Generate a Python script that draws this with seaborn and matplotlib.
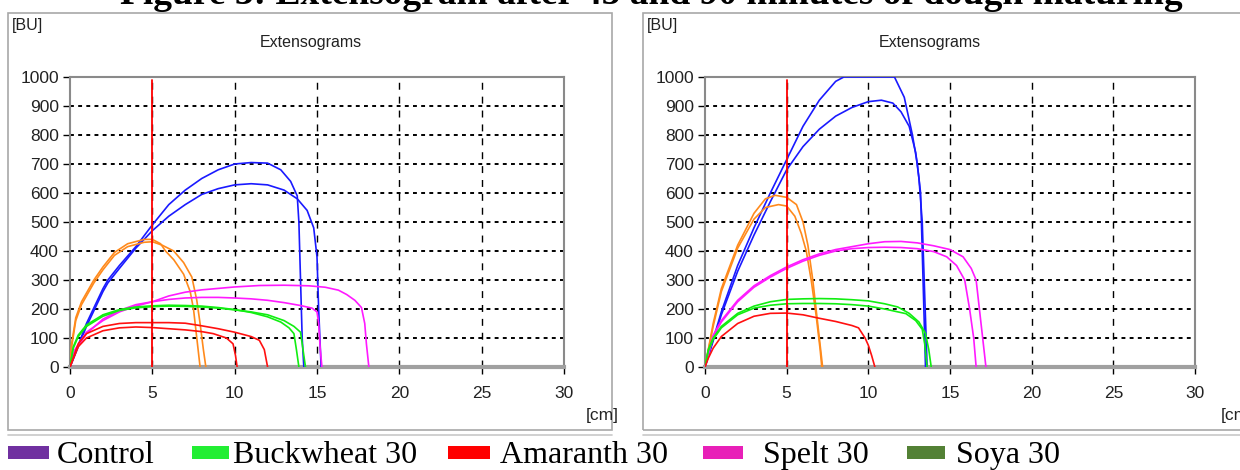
import numpy as np
import pandas as pd
import matplotlib
matplotlib.use("Agg")
import matplotlib.pyplot as plt
from matplotlib.patches import Rectangle
import seaborn as sns

# ---------------- data ----------------
title_text = "Figure 3: Extensogram after 45 and 90 minutes of dough maturing"
panel_title = "Extensograms"
x_ticks = [0, 5, 10, 15, 20, 25, 30]
y_ticks = [0, 100, 200, 300, 400, 500, 600, 700, 800, 900, 1000]

legend_labels = ["Control", "Buckwheat 30", "Amaranth 30", "Spelt 30", "Soya 30"]
legend_colors = ["#7030A0", "#22EE33", "#FF0000", "#E820B8", "#538135"]

# left panel (first maturing time)
L_blue_a_x = [0, 1, 2, 2.3, 3, 4, 5, 6, 7, 8, 9, 10, 11, 12, 12.8, 13.4, 13.8, 13.9, 14.0, 14.1, 14.2]
L_blue_a_y = [0, 150, 270, 300, 350, 415, 490, 560, 610, 650, 680, 700, 705, 703, 680, 640, 590, 500, 300, 100, 0]
L_blue_b_x = [0, 1, 2, 2.3, 3, 4, 5, 6, 7, 8, 9, 10, 11, 12, 13, 13.8, 14.4, 14.8, 15.0, 15.1, 15.25]
L_blue_b_y = [0, 140, 260, 290, 340, 410, 470, 520, 560, 595, 615, 628, 632, 628, 610, 580, 540, 480, 380, 200, 0]
L_orng_a_x = [0, 0.1, 0.35, 0.7, 1.45, 2, 2.7, 3.5, 4.5, 5, 5.5, 5.8, 6.3, 6.9, 7.3, 7.5, 7.7, 7.9]
L_orng_a_y = [0, 80, 170, 225, 300, 345, 395, 425, 440, 440, 425, 400, 370, 320, 260, 200, 100, 0]
L_orng_b_x = [0, 0.1, 0.35, 0.7, 1.45, 2, 2.7, 3.5, 4.5, 5, 5.6, 6.3, 6.9, 7.4, 7.7, 7.9, 8.1, 8.25]
L_orng_b_y = [0, 70, 160, 215, 290, 335, 385, 415, 430, 432, 420, 400, 360, 310, 230, 150, 60, 0]
L_mag_a_x = [0, 0.3, 1, 2, 3, 4, 5, 6, 7, 8, 10, 11.5, 13, 14.5, 15.5, 16.3, 16.8, 17.3, 17.7, 17.9, 18.0, 18.15]
L_mag_a_y = [0, 60, 120, 160, 190, 210, 225, 245, 258, 266, 276, 281, 282, 280, 275, 265, 250, 230, 205, 150, 80, 0]
L_mag_b_x = [0, 0.3, 1, 2, 3, 4, 5, 6, 7, 8, 9, 10, 11, 12, 13, 14, 14.7, 15.0, 15.1, 15.2, 15.3]
L_mag_b_y = [0, 55, 115, 165, 195, 215, 225, 233, 238, 240, 240, 238, 235, 230, 222, 212, 203, 190, 150, 60, 0]
L_grn_a_x = [0, 0.2, 0.5, 1, 2, 3, 4, 5, 6, 7, 8, 9, 10, 11, 12, 12.8, 13.3, 13.6, 13.75, 13.9]
L_grn_a_y = [0, 70, 110, 145, 180, 198, 207, 211, 213, 212, 210, 205, 198, 188, 173, 155, 135, 115, 60, 0]
L_grn_b_x = [0, 0.2, 0.5, 1, 2, 3, 4, 5, 6, 7, 8, 9, 10, 11, 12, 13, 13.6, 14.0, 14.15, 14.3]
L_grn_b_y = [0, 65, 105, 140, 175, 195, 204, 208, 210, 209, 207, 203, 197, 190, 180, 160, 140, 120, 60, 0]
L_red_a_x = [0, 0.5, 1, 2, 3, 4, 5, 6, 7, 8, 9, 10, 11, 11.5, 11.8, 12.0]
L_red_a_y = [0, 80, 115, 140, 150, 153, 153, 153, 151, 142, 132, 120, 105, 92, 60, 0]
L_red_b_x = [0, 0.5, 1, 2, 3, 4, 5, 6, 7, 8, 8.7, 9.5, 9.9, 10.05, 10.15]
L_red_b_y = [0, 70, 100, 125, 135, 138, 136, 132, 128, 122, 115, 100, 80, 40, 0]

# right panel (second maturing time)
R_blue_a_x = [0, 1, 2, 3, 4, 5, 6, 7, 8, 8.5, 11.6, 12.2, 12.7, 13.0, 13.2, 13.3, 13.4, 13.5]
R_blue_a_y = [0, 190, 350, 480, 600, 715, 830, 920, 985, 1000, 1000, 930, 800, 700, 600, 400, 200, 0]
R_blue_b_x = [0, 1, 2, 3, 4, 5, 6, 7, 8, 9, 10, 10.8, 11.5, 12, 12.5, 12.9, 13.1, 13.3, 13.45, 13.6]
R_blue_b_y = [0, 180, 330, 455, 570, 680, 760, 820, 865, 895, 915, 920, 910, 880, 830, 740, 650, 500, 250, 0]
R_orng_a_x = [0, 0.5, 1, 2, 3, 3.7, 4.3, 5, 5.6, 6.0, 6.3, 6.6, 6.9, 7.2]
R_orng_a_y = [0, 150, 270, 420, 530, 580, 592, 585, 560, 500, 420, 300, 150, 0]
R_orng_b_x = [0, 0.5, 1, 2, 3, 3.7, 4.5, 5.0, 5.5, 5.9, 6.2, 6.5, 6.8, 7.05, 7.15]
R_orng_b_y = [0, 140, 260, 410, 510, 550, 560, 555, 520, 460, 400, 300, 180, 60, 0]
R_mag_a_x = [0, 0.5, 1, 2, 3, 4, 5, 6, 7, 8, 9, 10, 11, 12, 13, 14, 15, 15.8, 16.3, 16.6, 16.8, 17.0, 17.2]
R_mag_a_y = [0, 110, 160, 230, 280, 315, 345, 370, 390, 405, 415, 425, 432, 433, 428, 418, 405, 380, 340, 300, 200, 100, 0]
R_mag_b_x = [0, 0.5, 1, 2, 3, 4, 5, 6, 7, 8, 9, 10, 11, 12, 13, 14, 14.8, 15.4, 15.9, 16.2, 16.45, 16.6]
R_mag_b_y = [0, 105, 155, 225, 275, 310, 340, 365, 385, 400, 408, 412, 413, 412, 408, 398, 380, 350, 300, 200, 100, 0]
R_grn_a_x = [0, 0.2, 0.5, 1, 2, 3, 4, 5, 6, 7, 8, 9, 10, 11, 11.8, 12.5, 13.1, 13.5, 13.7, 13.85]
R_grn_a_y = [0, 60, 100, 140, 185, 210, 225, 233, 235, 236, 235, 232, 228, 218, 207, 185, 155, 116, 60, 0]
R_grn_b_x = [0, 0.2, 0.5, 1, 2, 3, 4, 5, 6, 7, 8, 9, 10, 11, 12.3, 12.9, 13.3, 13.45, 13.6]
R_grn_b_y = [0, 55, 95, 135, 180, 203, 213, 218, 219, 219, 218, 215, 210, 200, 184, 160, 130, 80, 0]
R_red_a_x = [0, 0.2, 0.5, 1, 2, 3, 4, 5, 6, 7, 8, 9, 9.4, 9.8, 10.0, 10.2, 10.4]
R_red_a_y = [0, 30, 65, 105, 150, 175, 185, 186, 180, 168, 157, 143, 135, 100, 75, 40, 0]

curve_colors = {"blue": "#1a1aff", "orange": "#ff8a1c", "magenta": "#ff1aff",
                "green": "#11ee11", "red": "#ff1010"}

left_curves = [
    ("blue", L_blue_a_x, L_blue_a_y), ("blue", L_blue_b_x, L_blue_b_y),
    ("orange", L_orng_a_x, L_orng_a_y), ("orange", L_orng_b_x, L_orng_b_y),
    ("magenta", L_mag_a_x, L_mag_a_y), ("magenta", L_mag_b_x, L_mag_b_y),
    ("green", L_grn_a_x, L_grn_a_y), ("green", L_grn_b_x, L_grn_b_y),
    ("red", L_red_a_x, L_red_a_y), ("red", L_red_b_x, L_red_b_y),
]
right_curves = [
    ("blue", R_blue_a_x, R_blue_a_y), ("blue", R_blue_b_x, R_blue_b_y),
    ("orange", R_orng_a_x, R_orng_a_y), ("orange", R_orng_b_x, R_orng_b_y),
    ("magenta", R_mag_a_x, R_mag_a_y), ("magenta", R_mag_b_x, R_mag_b_y),
    ("green", R_grn_a_x, R_grn_a_y), ("green", R_grn_b_x, R_grn_b_y),
    ("red", R_red_a_x, R_red_a_y),
]

# ---------------- style ----------------
sns.set_style("white")
plt.rcParams["font.family"] = ["Liberation Sans Narrow", "Liberation Sans", "DejaVu Sans"]

W, H = 1240, 470
fig = plt.figure(figsize=(W / 100, H / 100), dpi=100)


def fx(px):
    return px / W


def fy(py):
    return 1 - py / H


narrow = ["Liberation Sans Narrow", "Liberation Sans", "DejaVu Sans"]
serif = ["Liberation Serif", "DejaVu Serif"]

# panel frames
for (x0, x1) in [(8, 612), (643, 1250)]:
    fig.add_artist(Rectangle((fx(x0), fy(430)), fx(x1 - x0), (430 - 13) / H,
                             transform=fig.transFigure, fill=False,
                             edgecolor="#a8a8a8", lw=1.2))
    fig.add_artist(plt.Line2D([fx(x0), fx(x1)], [fy(435), fy(435)],
                              transform=fig.transFigure, color="#c8c8c8", lw=1.2))


def draw_panel(ax, curves):
    rows = []
    for i, (c, xs, ys) in enumerate(curves):
        for xv, yv in zip(xs, ys):
            rows.append({"x": xv, "y": yv, "curve": f"{i}", "col": c})
    df = pd.DataFrame(rows)
    pal = {f"{i}": curve_colors[c] for i, (c, _, _) in enumerate(curves)}
    # grid
    for yv in y_ticks[1:-1]:
        ax.axhline(yv, color="black", lw=1.4, ls=(0, (2, 2.2)), zorder=1)
    for xv in x_ticks[1:-1]:
        ax.axvline(xv, color="black", lw=1.0, ls=(0, (5, 5)), zorder=1)
    sns.lineplot(data=df, x="x", y="y", hue="curve", palette=pal, ax=ax,
                 estimator=None, sort=False, legend=False, lw=1.2, zorder=3)
    ax.axvline(5, ymin=0, ymax=0.99, color="#ff0000", lw=1.3, zorder=4)
    ax.set_xlim(0, 30)
    ax.set_ylim(0, 1000)
    ax.set_xticks(x_ticks)
    ax.set_yticks(y_ticks)
    ax.set_xticklabels([str(v) for v in x_ticks], fontfamily=narrow, fontsize=12.5, color="#222222")
    ax.set_yticklabels([str(v) for v in y_ticks], fontfamily=narrow, fontsize=12.5, color="#222222")
    ax.tick_params(axis="both", which="both", length=5, width=1, color="black",
                   direction="out", bottom=True, left=True, pad=3)
    ax.tick_params(axis="x", pad=9)
    ax.set_xlabel("")
    ax.set_ylabel("")
    for s in ["top", "left", "right"]:
        ax.spines[s].set_color("#8a8a8a")
        ax.spines[s].set_linewidth(1.5)
    ax.spines["bottom"].set_color("#a0a0a0")
    ax.spines["bottom"].set_linewidth(3)
    ax.set_facecolor("white")


axL = fig.add_axes([fx(70), fy(367), fx(564 - 70), (367 - 77) / H])
axR = fig.add_axes([fx(705), fy(367), fx(1195 - 705), (367 - 77) / H])
draw_panel(axL, left_curves)
draw_panel(axR, right_curves)

# panel texts
for bu_x, title_x, cm_x in [(12, 311, 586), (647, 930, 1221)]:
    fig.text(fx(bu_x), fy(30), "[BU]", fontfamily=narrow, fontsize=11.5, color="#222222",
             ha="left", va="baseline")
    fig.text(fx(title_x), fy(47), panel_title, fontfamily=narrow, fontsize=11.5,
             color="#222222", ha="center", va="baseline")
    fig.text(fx(cm_x), fy(420), "[cm]", fontfamily=narrow, fontsize=12.5, color="#222222",
             ha="left", va="baseline")

# figure title, cut by the top edge as in the reference
fig.text(fx(651), fy(4), title_text, fontfamily=serif, fontweight="bold",
         fontsize=27, color="black", ha="center", va="baseline")

# legend
patch_x = [(8, 49), (192, 229), (448, 490), (703, 743), (907, 945)]
text_x = [57, 233, 500, 763, 956]
for (p0, p1), tx, lab, col in zip(patch_x, text_x, legend_labels, legend_colors):
    fig.add_artist(Rectangle((fx(p0), fy(459)), fx(p1 - p0), 13 / H,
                             transform=fig.transFigure, color=col, lw=0))
    fig.text(fx(tx), fy(463), lab, fontfamily=serif, fontsize=23, color="black",
             ha="left", va="baseline")

fig.savefig("out.png", dpi=100, facecolor="white")
